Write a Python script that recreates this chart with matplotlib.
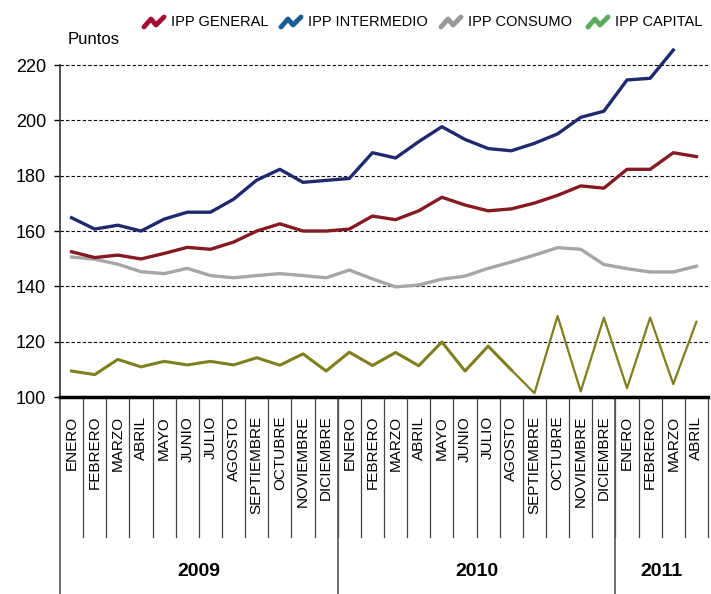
import matplotlib
matplotlib.use("Agg")
import matplotlib.pyplot as plt
from matplotlib.lines import Line2D
import matplotlib.transforms as mtransforms

months = ["ENERO", "FEBRERO", "MARZO", "ABRIL", "MAYO", "JUNIO", "JULIO",
          "AGOSTO", "SEPTIEMBRE", "OCTUBRE", "NOVIEMBRE", "DICIEMBRE"]
labels = months + months + months[:4]
years = ["2009", "2010", "2011"]
year_len = [12, 12, 4]

ipp_general = [152.5, 150.4, 151.3, 149.9, 151.9, 154.1, 153.4, 156.0, 160.0, 162.6,
               160.0, 160.0, 160.7, 165.4, 164.1, 167.3, 172.2, 169.4, 167.3, 168.0,
               170.1, 172.9, 176.3, 175.5, 182.3, 182.3, 188.3, 186.9]
ipp_intermedio = [164.8, 160.7, 162.1, 160.0, 164.3, 166.8, 166.8, 171.5, 178.4, 182.3,
                  177.6, 178.3, 179.0, 188.3, 186.4, 192.3, 197.7, 193.1, 189.8, 189.0,
                  191.7, 195.1, 201.1, 203.3, 214.6, 215.2, 225.4]
ipp_consumo = [150.6, 149.8, 148.0, 145.3, 144.6, 146.5, 143.9, 143.1, 143.9, 144.6,
               143.9, 143.1, 145.9, 142.7, 139.8, 140.5, 142.6, 143.7, 146.5, 148.8,
               151.3, 154.0, 153.4, 147.9, 146.4, 145.2, 145.2, 147.3]
ipp_capital = [109.4, 108.1, 113.6, 110.9, 112.9, 111.6, 112.9, 111.6, 114.2, 111.5,
               115.6, 109.4, 116.2, 111.4, 116.1, 111.3, 119.9, 109.4, 118.4, 109.8,
               101.4, 129.3, 102.0, 128.7, 103.2, 128.7, 104.7, 127.2]

font = ["Liberation Sans", "DejaVu Sans"]

fig = plt.figure(figsize=(7.11, 5.94), dpi=100)
ax = fig.add_axes([0.0844, 0.3316, 0.9114, 0.5869])

x = list(range(len(labels)))
ax.plot(x, ipp_consumo, color="#a6a6a6", lw=2.4, clip_on=False)
ax.plot(x[:20], ipp_capital[:20], color="#7f7f1e", lw=2.2, clip_on=False)
ax.plot(x[19:], ipp_capital[19:], color="#7f7f1e", lw=1.6, clip_on=False)
ax.plot(x, ipp_general, color="#861a22", lw=2.4, clip_on=False)
ax.plot(x[:len(ipp_intermedio)], ipp_intermedio, color="#1f2a6e", lw=2.4, clip_on=False)

ax.set_xlim(-0.5, len(labels) - 0.5)
ax.set_ylim(100, 226)
ax.set_yticks([100, 120, 140, 160, 180, 200, 220])
for v in [120, 140, 160, 180, 200, 220]:
    ax.axhline(v, color="black", lw=0.8, ls=(0, (3, 2)), zorder=0)
ax.set_xticks([])
for s in ["top", "right"]:
    ax.spines[s].set_visible(False)
ax.spines["left"].set_bounds(100, 220)
ax.spines["left"].set_color("#333333")
ax.spines["left"].set_linewidth(1.2)
ax.spines["bottom"].set_linewidth(2.5)
ax.tick_params(axis="y", direction="out", length=4, width=1, pad=6, labelsize=13)
for t in ax.get_yticklabels():
    t.set_fontfamily(font)

ax.text(0.012, 1.005, "Puntos", transform=ax.transAxes, fontsize=12,
        family=font, va="bottom", ha="left")

# month labels and separators under the axis
trans = mtransforms.blended_transform_factory(ax.transData, ax.transAxes)
for i, lab in enumerate(labels):
    ax.text(i, -0.054, lab, transform=trans, rotation=90, ha="center", va="top",
            fontsize=11, family=font)
for i in range(len(labels)):
    ax.plot([i + 0.5, i + 0.5], [0, -0.402], transform=trans, color="#444444",
            lw=0.9, clip_on=False)
start = 0
for yr, n in zip(years, year_len):
    ax.plot([start - 0.5, start - 0.5], [0, -0.565], transform=trans,
            color="#555555", lw=1.2, clip_on=False)
    ax.text(start - 0.5 + n / 2, -0.5, yr, transform=trans, ha="center",
            va="center", fontsize=14, fontweight="bold", family=font)
    start += n

# legend with zigzag icons
legend = [("IPP GENERAL", "#a50d35", 143), ("IPP INTERMEDIO", "#1a5c96", 280),
          ("IPP CONSUMO", "#999999", 440), ("IPP CAPITAL", "#5bab5e", 587)]
W, H = 711, 594
for name, col, px in legend:
    xs = [px + 1, px + 8, px + 13, px + 21]
    ys = [27, 19, 25, 17]
    fig.add_artist(Line2D([v / W for v in xs], [1 - v / H for v in ys],
                          transform=fig.transFigure, color=col, lw=3.5,
                          solid_capstyle="round", solid_joinstyle="round"))
    fig.text((px + 28) / W, 1 - 22 / H, name, fontsize=10.5, family=font,
             ha="left", va="center")

fig.savefig("out.png", dpi=100)
